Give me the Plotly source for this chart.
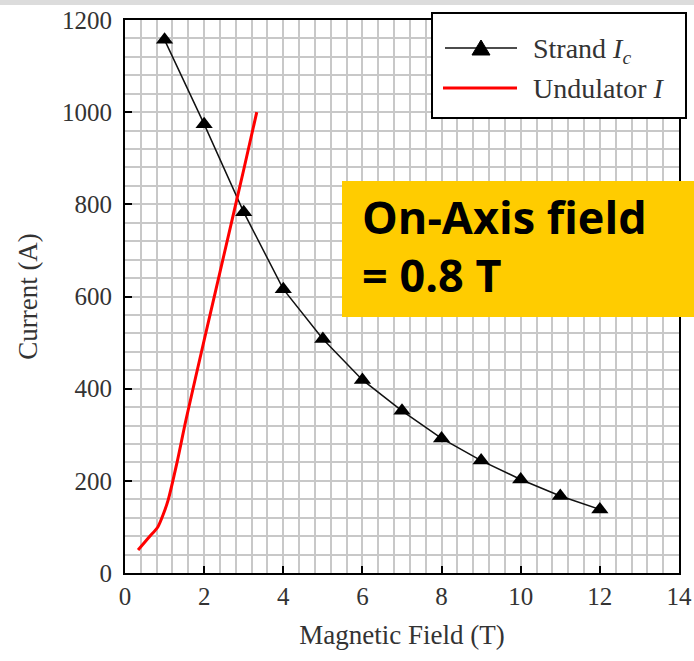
import plotly.graph_objects as go

# Data
strand_field = [1, 2, 3, 4, 5, 6, 7, 8, 9, 10, 11, 12]
strand_ic = [1157, 974, 783, 616, 508, 419, 352, 292, 244, 203, 167, 138]

und_field = [0.33, 0.6, 0.83, 0.97, 1.09, 1.31, 1.54, 2.0, 2.5, 3.0, 3.33]
und_current = [50, 77, 100, 128, 158, 238, 332, 505, 690, 875, 1000]

x_ticks = [0, 2, 4, 6, 8, 10, 12, 14]
y_ticks = [0, 200, 400, 600, 800, 1000, 1200]

strand_name = "Strand <i>I<sub>c</sub></i>"
und_name = "Undulator <i>I</i>"

W, H = 694, 661
L, R, T, B = 125, 15, 20, 88
pw, ph = W - L - R, H - T - B

def px(xp):
    return (xp - L) / pw

def py(yp):
    return 1 - (yp - T) / ph

serif = "Liberation Serif, Times New Roman, serif"
grid_c = "#c8c8c8"
txt_c = "#333333"

fig = go.Figure()
fig.add_trace(go.Scatter(
    x=strand_field, y=strand_ic, mode="lines+markers",
    name=strand_name, showlegend=False,
    line=dict(color="#111111", width=1.5),
    marker=dict(symbol="triangle-up", size=15, color="black"),
))
fig.add_trace(go.Scatter(
    x=und_field, y=und_current, mode="lines",
    name=und_name, showlegend=False,
    line=dict(color="#ff0000", width=3, shape="spline", smoothing=0.8),
))

axis_common = dict(
    showline=True, linecolor="black", linewidth=2, mirror=True,
    ticks="inside", ticklen=7, tickwidth=2, tickcolor="black",
    showgrid=True, gridcolor=grid_c, gridwidth=1.5,
    zeroline=False,
    tickfont=dict(family=serif, size=25, color=txt_c),
)

fig.update_xaxes(
    range=[0, 14], tickvals=x_ticks,
    minor=dict(dtick=0.4, tick0=0, showgrid=True, gridcolor=grid_c, gridwidth=1.5, ticks=""),
    title=dict(text="Magnetic Field (T)", font=dict(family=serif, size=27, color=txt_c), standoff=16),
    **axis_common,
)
fig.update_yaxes(
    range=[0, 1200], tickvals=y_ticks,
    minor=dict(dtick=40, tick0=0, showgrid=True, gridcolor=grid_c, gridwidth=1.5, ticks=""),
    title=dict(text="Current (A)", font=dict(family=serif, size=27, color=txt_c), standoff=17),
    ticklabelstandoff=6,
    **axis_common,
)

# legend drawn as layout decoration (box, sample lines, marker, labels)
leg_x0, leg_x1, leg_y0, leg_y1 = 432, 686, 13, 118
row1, row2 = 48, 88
shapes = [
    dict(type="rect", xref="paper", yref="paper",
         x0=px(0), x1=px(W), y0=py(5), y1=py(0),
         fillcolor="#dcdcdc", line=dict(width=0), layer="above"),
    dict(type="rect", xref="paper", yref="paper",
         x0=px(leg_x0), x1=px(leg_x1), y0=py(leg_y1), y1=py(leg_y0),
         fillcolor="white", line=dict(color="black", width=2), layer="above"),
    dict(type="line", xref="paper", yref="paper",
         x0=px(445), x1=px(517), y0=py(row1), y1=py(row1),
         line=dict(color="#111111", width=1.5), layer="above"),
    dict(type="path", xref="paper", yref="paper",
         path="M{:.5f},{:.5f} L{:.5f},{:.5f} L{:.5f},{:.5f} Z".format(
             px(472), py(55), px(490), py(55), px(481), py(40)),
         fillcolor="black", line=dict(color="black", width=1), layer="above"),
    dict(type="line", xref="paper", yref="paper",
         x0=px(443), x1=px(517), y0=py(row2), y1=py(row2),
         line=dict(color="#ff0000", width=3), layer="above"),
    dict(type="rect", xref="paper", yref="paper",
         x0=px(342), x1=px(W + 5), y0=py(317), y1=py(181),
         fillcolor="#ffcc00", line=dict(width=0), layer="above"),
]

annotations = [
    dict(xref="paper", yref="paper", x=px(531), y=py(row1 + 3), xanchor="left", yanchor="middle",
         text=strand_name, showarrow=False,
         font=dict(family=serif, size=28, color=txt_c)),
    dict(xref="paper", yref="paper", x=px(531), y=py(row2), xanchor="left", yanchor="middle",
         text=und_name, showarrow=False,
         font=dict(family=serif, size=28, color=txt_c)),
    dict(xref="paper", yref="paper", x=px(360), y=py(217), xanchor="left", yanchor="middle",
         text="<b>On-Axis field</b>", showarrow=False,
         font=dict(family="Open Sans", size=45, color="black")),
    dict(xref="paper", yref="paper", x=px(360), y=py(274), xanchor="left", yanchor="middle",
         text="<b>= 0.8 T</b>", showarrow=False,
         font=dict(family="Open Sans", size=45, color="black")),
]

fig.update_layout(
    width=W, height=H, autosize=False,
    margin=dict(l=L, r=R, t=T, b=B, autoexpand=False),
    plot_bgcolor="white", paper_bgcolor="white",
    showlegend=False,
    shapes=shapes,
    annotations=annotations,
)

fig.write_html("out.html", config={"responsive": False})
